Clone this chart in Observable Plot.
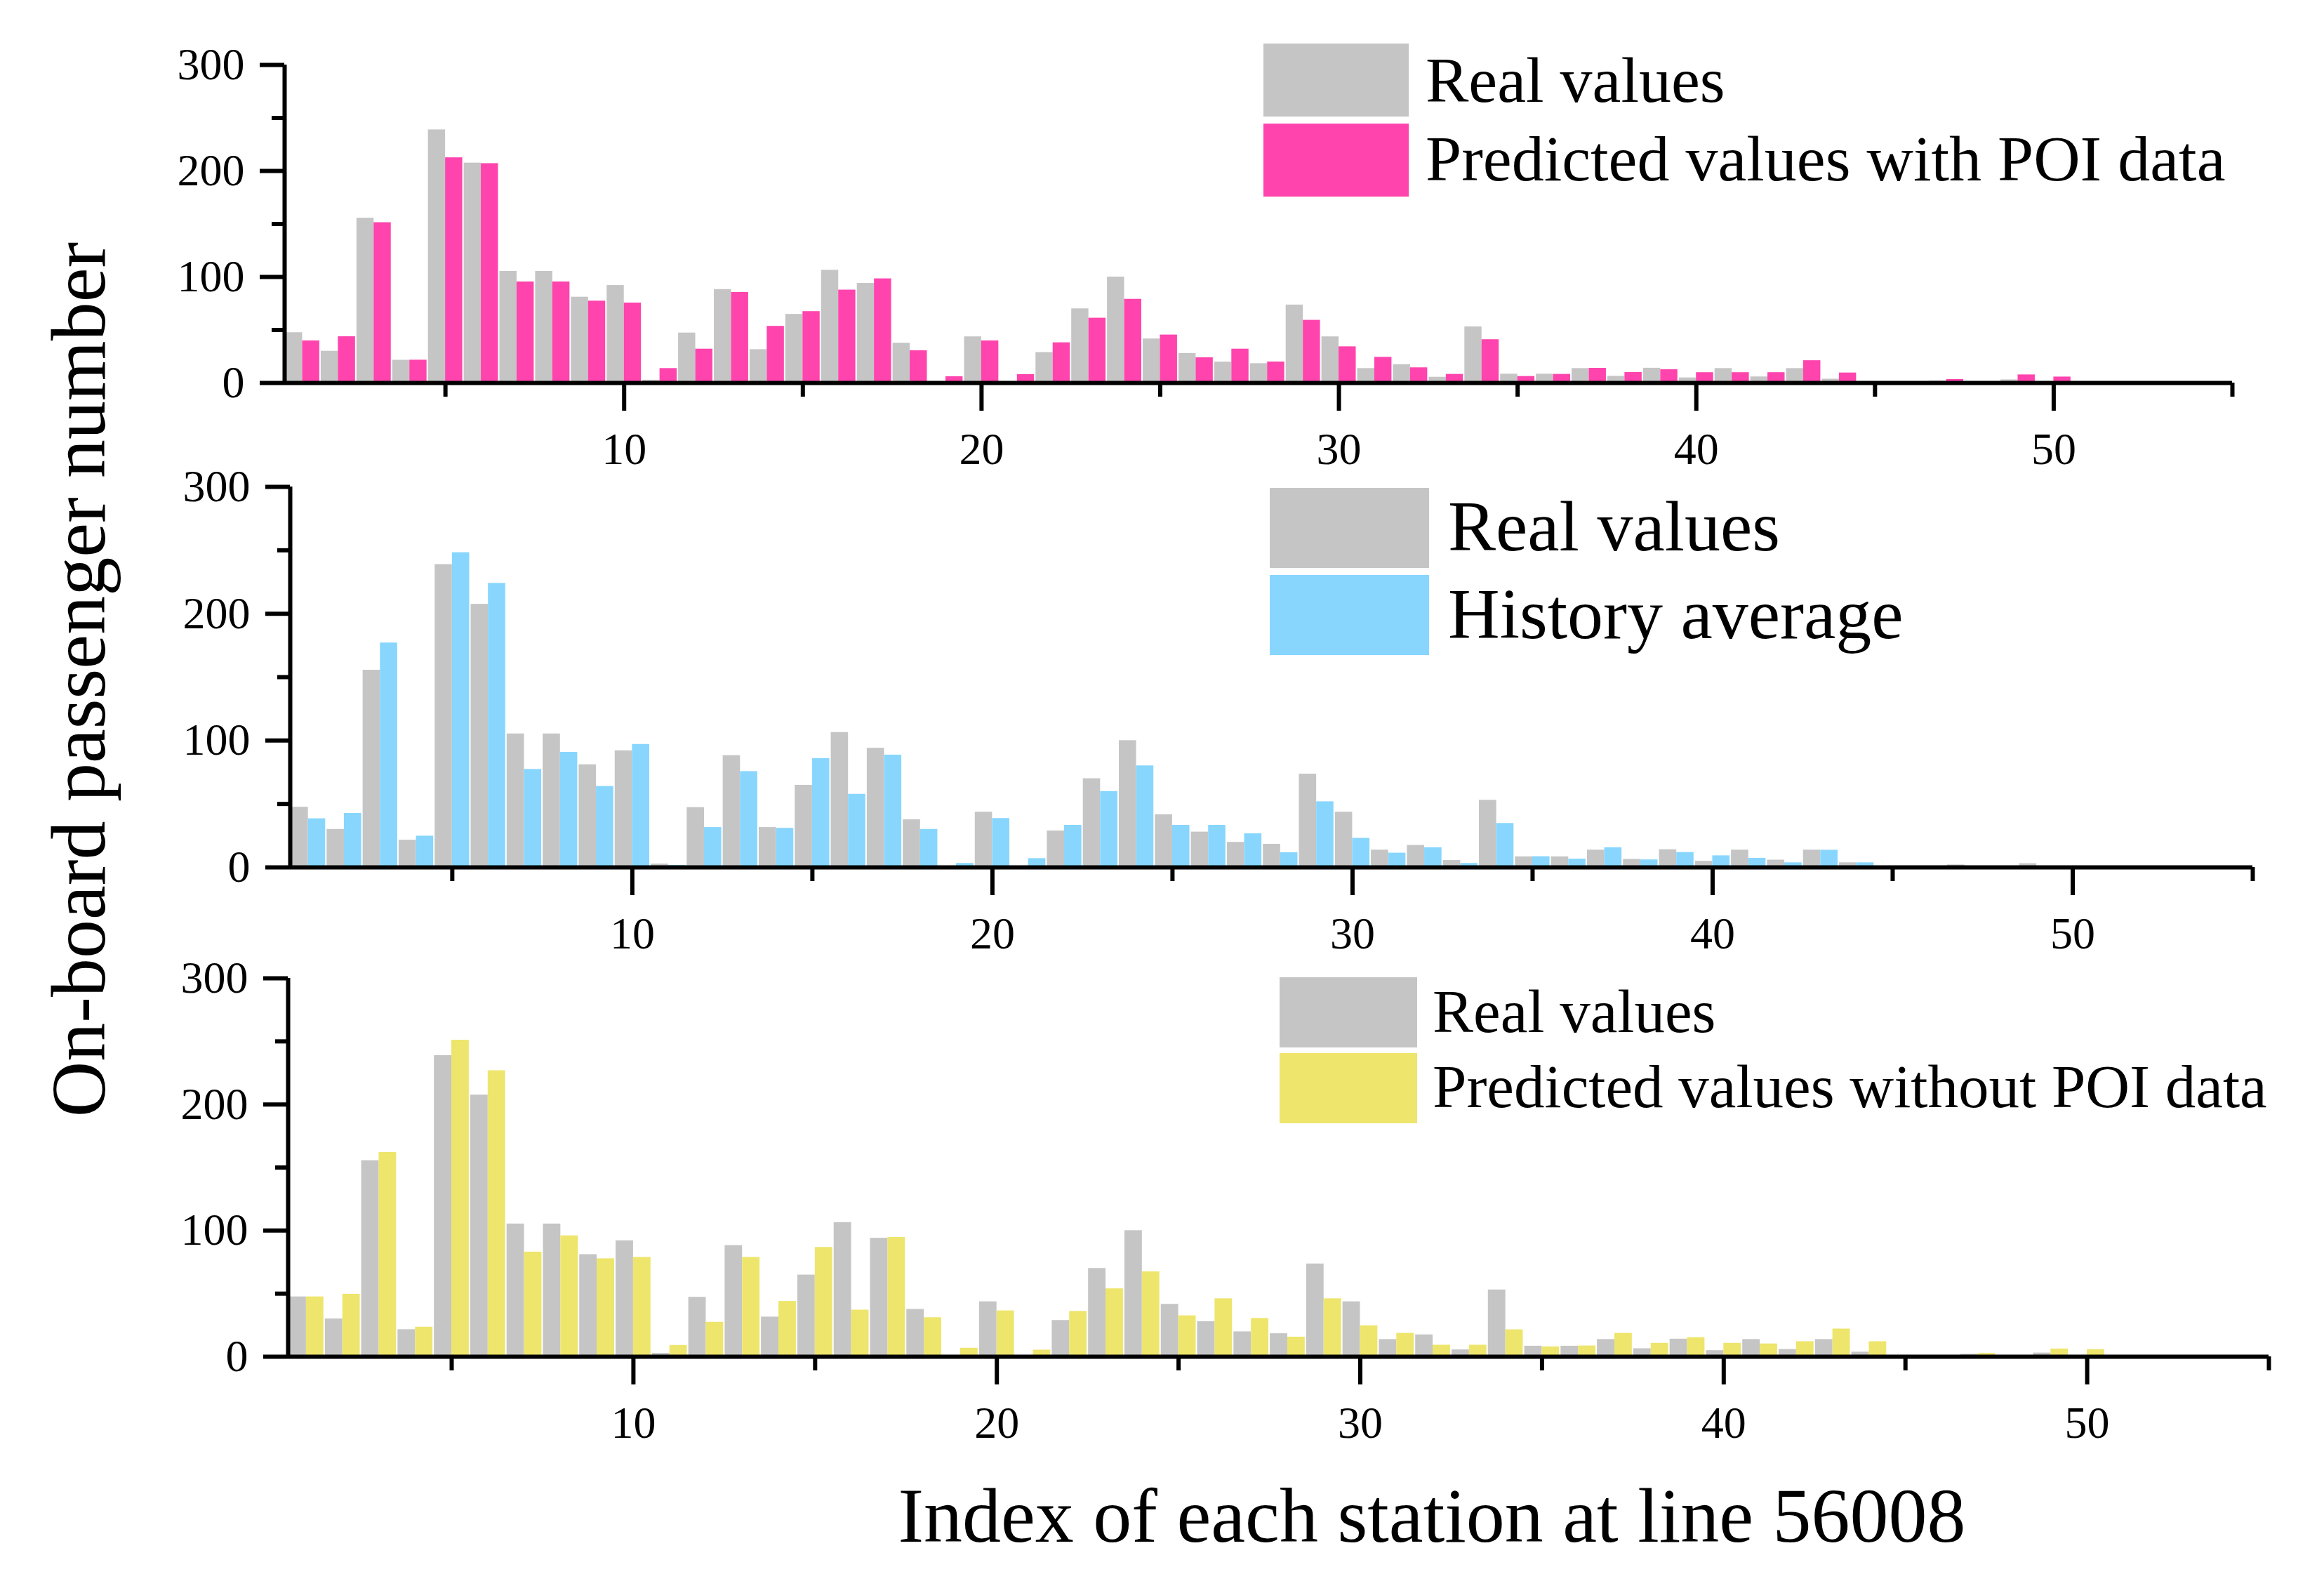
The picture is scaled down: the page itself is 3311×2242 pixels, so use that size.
<!DOCTYPE html>
<html>
<head>
<meta charset="utf-8">
<script src="https://cdn.jsdelivr.net/npm/d3@7"></script>
<script src="https://cdn.jsdelivr.net/npm/@observablehq/plot@0.6"></script>
<style>
  body { margin: 0; background: #fff; }
  #fig { position: relative; width: 3311px; height: 2242px; overflow: hidden; background: #fff; }
  #fig svg { position: absolute; left: 0; overflow: visible; }
</style>
</head>
<body>
<div id="fig"></div>
<script>
// On-board passengers per station, line 56008 — three stacked panels

const stations = d3.range(1, 51);

const realValues = [
  47.5, 30, 155.5, 21.5, 238.8, 207.5, 105.3, 105.3, 81, 92,
  2.7, 47.2, 88.2, 31.5, 64.8, 106.4, 94, 37.6, 0, 43.6,
  0, 28.8, 70, 100, 41.6, 27.9, 19.8, 18.3, 73.6, 43.6,
  13.7, 17.4, 5.5, 53, 8.4, 8.4, 13.7, 6.4, 14, 4.9,
  13.7, 5.8, 13.7, 3.7, 0, 0, 2, 0, 3, 0
];
const withPoi = [
  39.8, 43.7, 151.3, 21.6, 212.5, 207, 95.4, 95.4, 77.3, 75.5,
  13.7, 32, 85.5, 53.5, 67.4, 87.7, 98.3, 30.5, 6, 39.8,
  8, 38, 61.2, 79, 45.3, 23.9, 32, 19.9, 59.2, 34.2,
  24.3, 14.4, 8.2, 40.9, 6.2, 8.2, 13.9, 10, 12.6, 9.8,
  9.8, 9.8, 21.1, 9.5, 0, 0, 3.4, 0, 7.7, 5.7
];
const historyAvg = [
  38.4, 42.6, 177, 24.7, 248.2, 224, 77.3, 90.8, 63.9, 97,
  1.7, 31.5, 75.6, 30.9, 85.9, 57.7, 88.6, 30, 3.2, 38.6,
  7, 33.2, 59.9, 80.1, 33.2, 33.2, 26.6, 11.7, 51.8, 23,
  11.3, 15.6, 3.2, 34.7, 8.5, 6.6, 15.6, 6, 11.8, 9.2,
  7.2, 3.7, 13.6, 3.7, 0, 0, 1, 0, 1, 0.5
];
const withoutPoi = [
  47.5, 49.6, 162, 23.5, 251, 226.8, 83, 95.9, 77.7, 78.8,
  9, 27.4, 78.8, 43.9, 86.7, 37, 94.6, 31, 6.8, 36.4,
  5.3, 36, 53.9, 67.4, 32.5, 46, 30.4, 15.6, 46, 24.6,
  18.6, 9.2, 9.2, 21.4, 7.9, 8.6, 18.6, 10.7, 15.2, 10.7,
  10.2, 12, 22, 12, 0, 0, 2.7, 0, 6.2, 5.7
];

const realName = "Real values";
const yTicks = [0, 100, 200, 300];
const yMinor = [50, 150, 250];
const xTicks = [10, 20, 30, 40, 50];
const xMinor = [5, 15, 25, 35, 45, 55];
const xTitle = "Index of each station at line 56008";
const yTitle = "On-board passenger number";

const SERIF = '"Liberation Serif", "Times New Roman", serif';
const GRAY = "#c5c5c5";

const panels = [
  { name: "Predicted values with POI data", values: withPoi, color: "#ff44ad",
    top: 0, plotTop: 92, plotBottom: 545, left: 405, right: 3180,
    legend: { x: 1800, y: 62, w: 207, h: 104, gap: 10, tx: 2031, b1: 145, b2: 257, fs: 92 } },
  { name: "History average", values: historyAvg, color: "#88d6fe",
    top: 600, plotTop: 693, plotBottom: 1235, left: 413, right: 3209,
    legend: { x: 1809, y: 695, w: 227, h: 114, gap: 10, tx: 2063, b1: 784, b2: 909, fs: 102 } },
  { name: "Predicted values without POI data", values: withoutPoi, color: "#eee56c",
    top: 1300, plotTop: 1393, plotBottom: 1932, left: 410, right: 3232,
    legend: { x: 1823, y: 1392, w: 196, h: 100, gap: 8, tx: 2041, b1: 1470, b2: 1577, fs: 87 } }
];

const fig = document.getElementById("fig");

function renderPanel(p) {
  const rows = stations.map((s, i) => ({ station: s, real: realValues[i], pred: p.values[i] }));
  const height = p.plotBottom - p.top + 160;
  const axisStyle = { stroke: "#000", strokeWidth: 6, fill: "#000", fontSize: 64, label: null };
  const plot = Plot.plot({
    width: 3311,
    height,
    marginTop: p.plotTop - p.top,
    marginBottom: height - (p.plotBottom - p.top),
    marginLeft: p.left,
    marginRight: 3311 - p.right,
    style: { background: "transparent", fontFamily: SERIF, color: "#000", overflow: "visible" },
    x: { domain: [0.5, 55] },
    y: { domain: [0, 300] },
    marks: [
      Plot.rectY(rows, { x1: d => d.station - 0.48, x2: d => d.station, y: "real", fill: GRAY }),
      Plot.rectY(rows, { x1: d => d.station, x2: d => d.station + 0.48, y: "pred", fill: p.color }),
      Plot.axisY({ ...axisStyle, ticks: yTicks, tickSize: 35, tickPadding: 22, tickFormat: d => String(d) }),
      Plot.axisY({ ...axisStyle, ticks: yMinor, tickSize: 18, tickFormat: () => "" }),
      Plot.axisX({ ...axisStyle, ticks: xTicks, tickSize: 40, tickPadding: 30, tickFormat: d => String(d) }),
      Plot.axisX({ ...axisStyle, ticks: xMinor, tickSize: 20, tickFormat: () => "" }),
      Plot.ruleX([0.5], { stroke: "#000", strokeWidth: 6 }),
      Plot.ruleY([0], { stroke: "#000", strokeWidth: 6 }),
    ],
  });
  plot.style.top = p.top + "px";
  fig.appendChild(plot);
}

panels.forEach(renderPanel);

// Titles and legends
const overlay = d3.create("svg")
  .attr("width", 3311).attr("height", 2242)
  .style("top", "0px")
  .attr("font-family", SERIF);

for (const p of panels) {
  const L = p.legend;
  const items = [[realName, GRAY, L.b1], [p.name, p.color, L.b2]];
  items.forEach(([label, fill, base], i) => {
    overlay.append("rect")
      .attr("x", L.x).attr("y", L.y + i * (L.h + L.gap))
      .attr("width", L.w).attr("height", L.h).attr("fill", fill);
    overlay.append("text")
      .attr("x", L.tx).attr("y", base)
      .attr("font-size", L.fs).attr("fill", "#000")
      .text(label);
  });
}

overlay.append("text")
  .attr("x", 2040).attr("y", 2196)
  .attr("text-anchor", "middle").attr("font-size", 110).attr("fill", "#000")
  .text(xTitle);

overlay.append("text")
  .attr("transform", "translate(110,968) rotate(-90)")
  .attr("dy", "0.35em")
  .attr("text-anchor", "middle").attr("font-size", 110).attr("fill", "#000")
  .text(yTitle);

fig.appendChild(overlay.node());
</script>
</body>
</html>
